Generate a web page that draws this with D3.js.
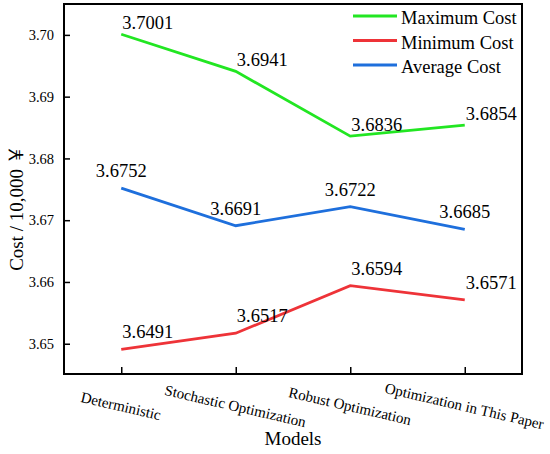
<!DOCTYPE html>
<html>
<head>
<meta charset="utf-8">
<script src="https://cdn.jsdelivr.net/npm/d3@7"></script>
<style>
  body { margin: 0; background: #fff; }
  text { font-family: "Liberation Serif", "Times New Roman", serif; fill: #000; }
</style>
</head>
<body>
<div class="canvas"></div>
<script>
// data
const models = ['Deterministic', 'Stochastic Optimization', 'Robust Optimization', 'Optimization in This Paper']
const maxCost = [3.7001, 3.6941, 3.6836, 3.6854]
const minCost = [3.6491, 3.6517, 3.6594, 3.6571]
const avgCost = [3.6752, 3.6691, 3.6722, 3.6685]
const yTicks = [3.65, 3.66, 3.67, 3.68, 3.69, 3.70]
const seriesNames = ['Maximum Cost', 'Minimum Cost', 'Average Cost']

const dims = { width: 550, height: 454 }
const margin = { top: 4, right: 28, bottom: 80, left: 64 }
const w = dims.width - margin.left - margin.right
const h = dims.height - margin.top - margin.bottom
const serif = '"Liberation Serif", "Times New Roman", serif'

const svg = d3.select('.canvas')
              .append('svg')
              .attr('width', dims.width)
              .attr('height', dims.height)

const graph = svg.append('g')
                 .attr('transform', `translate(${margin.left}, ${margin.top})`)

const x = d3.scalePoint()
            .domain(models)
            .range([0, w])
            .padding(0.5)

const y = d3.scaleLinear()
            .domain([3.6451, 3.705])
            .range([h, 0])

// series: colour + where the value label sits
const series = [
  { name: seriesNames[0], values: maxCost, color: '#22e622', anchor: 'start', dx: 1, dy: -5 },
  { name: seriesNames[1], values: minCost, color: '#ee3338', anchor: 'start', dx: 1, dy: -11 },
  { name: seriesNames[2], values: avgCost, color: '#1e6fdc', anchor: 'middle', dx: 0, dy: -11 }
]

// axes
const yAxis = d3.axisLeft(y).tickValues(yTicks).tickFormat(d3.format('.2f'))
                .tickSizeInner(-6).tickSizeOuter(0).tickPadding(10)
const yG = graph.append('g').call(yAxis).attr('font-family', serif)
yG.select('.domain').remove()
yG.selectAll('line').attr('stroke', '#000').attr('stroke-width', 1.5)
yG.selectAll('text').attr('font-size', 14.5).style('font-family', serif)

const xAxis = d3.axisBottom(x).tickSizeInner(-7).tickSizeOuter(0)
const xG = graph.append('g')
                .attr('transform', `translate(0, ${h})`)
                .call(xAxis)
                .attr('font-family', serif)
xG.select('.domain').remove()
xG.selectAll('line').attr('stroke', '#000').attr('stroke-width', 1.5)
xG.selectAll('text')
  .attr('y', null).attr('dy', null)
  .attr('font-size', 15)
  .style('font-family', serif)
  .attr('text-anchor', 'middle')
  .attr('transform', 'translate(-2, 37) rotate(13)')

// frame
graph.append('rect')
     .attr('width', w).attr('height', h)
     .attr('fill', 'none')
     .attr('stroke', '#000')
     .attr('stroke-width', 2)

// lines
const line = d3.line()
               .x((d, i) => x(models[i]))
               .y(d => y(d))

graph.selectAll('.link')
     .data(series)
     .enter()
     .append('path')
     .attr('class', 'link')
     .attr('fill', 'none')
     .attr('stroke', d => d.color)
     .attr('stroke-width', 2.8)
     .attr('d', d => line(d.values))

// value labels
series.forEach(s => {
  graph.selectAll(null)
       .data(s.values)
       .enter()
       .append('text')
       .attr('x', (d, i) => x(models[i]) + s.dx)
       .attr('y', d => y(d) + s.dy)
       .attr('text-anchor', s.anchor)
       .attr('font-size', 18.5)
       .text(d => d.toFixed(4))
})

// legend
const legend = graph.append('g')
                    .attr('transform', 'translate(289, 12)')
const items = legend.selectAll('g')
                    .data(series)
                    .enter()
                    .append('g')
                    .attr('transform', (d, i) => `translate(0, ${i * 24.5})`)
items.append('line')
     .attr('x1', 0).attr('x2', 44)
     .attr('stroke', d => d.color)
     .attr('stroke-width', 2.8)
items.append('text')
     .attr('x', 48).attr('y', 8)
     .attr('font-size', 18.5)
     .text(d => d.name)

// axis titles
svg.append('text')
   .attr('x', margin.left + w / 2)
   .attr('y', 445)
   .attr('text-anchor', 'middle')
   .attr('font-size', 19)
   .text('Models')

const yTitle = svg.append('text')
   .attr('transform', 'translate(23, 208) rotate(-90)')
   .attr('text-anchor', 'middle')
   .attr('font-size', 19)
yTitle.append('tspan').text('Cost / 10,000 ')
yTitle.append('tspan')
      .style('font-family', '"Noto Sans CJK SC", sans-serif')
      .attr('font-size', 19)
      .text('￥')
</script>
</body>
</html>
